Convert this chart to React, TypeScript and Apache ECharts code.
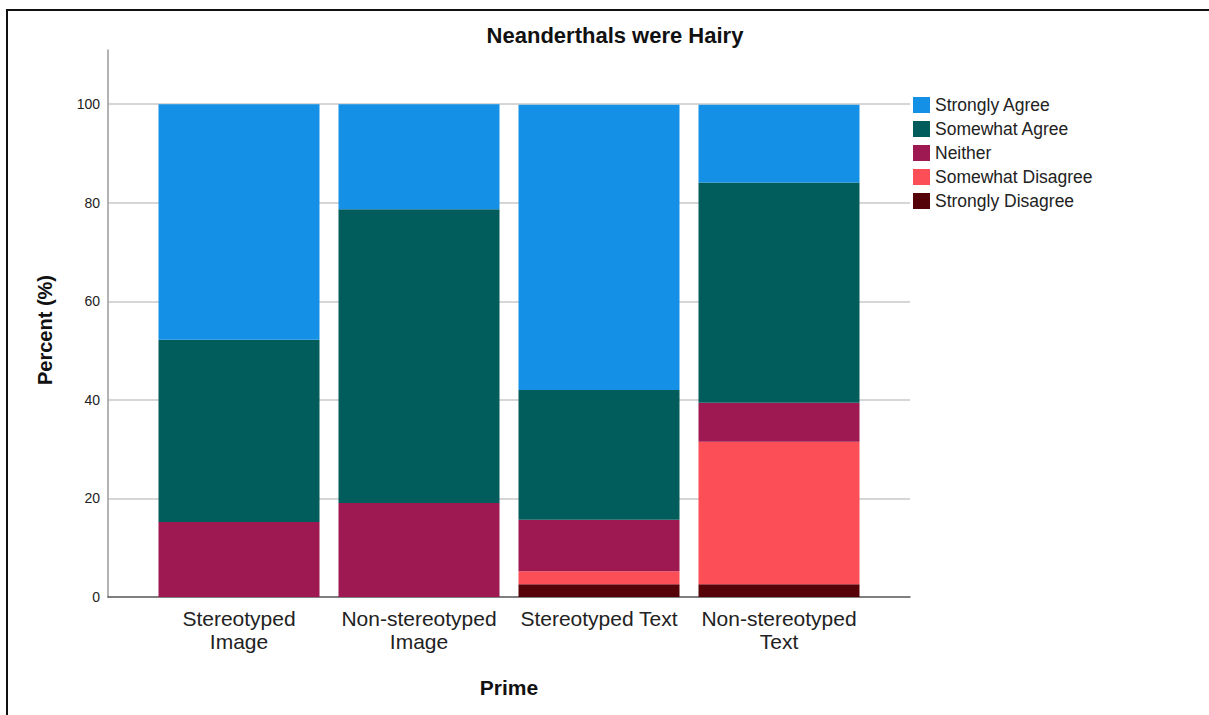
import React, { useEffect, useRef } from "react";
import * as echarts from "echarts";

const categories = ["Stereotyped\nImage", "Non-stereotyped\nImage", "Stereotyped Text", "Non-stereotyped\nText"];
const stronglyDisagree = [0, 0, 2.6, 2.6];
const somewhatDisagree = [0, 0, 2.6, 28.9];
const neither = [15.2, 19.1, 10.5, 7.9];
const somewhatAgree = [37.0, 59.6, 26.3, 44.7];
const stronglyAgree = [47.8, 21.3, 57.9, 15.8];
const yTicks = [0, 20, 40, 60, 80, 100];

const seriesDefs = [
  { name: "Strongly Disagree", data: stronglyDisagree, color: "#550309" },
  { name: "Somewhat Disagree", data: somewhatDisagree, color: "#fc4e56" },
  { name: "Neither", data: neither, color: "#9e1952" },
  { name: "Somewhat Agree", data: somewhatAgree, color: "#015d5b" },
  { name: "Strongly Agree", data: stronglyAgree, color: "#1491e6" },
];
const legendOrder = ["Strongly Agree", "Somewhat Agree", "Neither", "Somewhat Disagree", "Strongly Disagree"];

const FONT = "'Liberation Sans', Arial, sans-serif";

export default function App() {
  const ref = useRef<HTMLDivElement>(null);
  useEffect(() => {
    if (!ref.current) return;
    const chart = echarts.init(ref.current, undefined, { renderer: "svg" });
    chart.setOption({
      animation: false,
      backgroundColor: "#fff",
      textStyle: { fontFamily: FONT },
      title: {
        text: "Neanderthals were Hairy",
        left: 610,
        textAlign: "center",
        top: 19,
        textStyle: { fontFamily: FONT, fontSize: 22, fontWeight: "bold", color: "#111" },
      },
      graphic: [
        {
          type: "rect",
          shape: { x: 7, y: 10, width: 1400, height: 900 },
          style: { fill: "none", stroke: "#111", lineWidth: 2 },
          silent: true,
          z: 100,
        },
        {
          type: "text",
          x: 45,
          y: 330,
          rotation: Math.PI / 2,
          style: {
            text: "Percent (%)",
            fontFamily: FONT,
            fontSize: 20,
            fontWeight: "bold",
            fill: "#111",
            align: "center",
            verticalAlign: "middle",
          },
          silent: true,
        },
      ],
      legend: {
        orient: "vertical",
        left: 913,
        top: 96,
        padding: 0,
        icon: "rect",
        itemWidth: 17,
        itemHeight: 16,
        itemGap: 6,
        data: legendOrder,
        textStyle: { fontFamily: FONT, fontSize: 17.5, color: "#222" },
      },
      grid: [
        { left: 149, right: 340, top: 50, bottom: 118 },
        { left: 108, right: 299, top: 50, bottom: 118 },
      ],
      xAxis: [
        {
          type: "category",
          gridIndex: 0,
          data: categories,
          axisLine: { show: false },
          axisTick: { show: false },
          axisLabel: {
            fontFamily: FONT,
            fontSize: 21,
            lineHeight: 23,
            color: "#222",
            margin: 10,
            interval: 0,
          },
        },
        {
          type: "value",
          gridIndex: 1,
          min: 0,
          max: 1,
          axisLine: { show: true, lineStyle: { color: "#555", width: 1.5 } },
          axisTick: { show: false },
          axisLabel: { show: false },
          splitLine: { show: false },
          name: "Prime",
          nameLocation: "middle",
          nameGap: 80,
          nameTextStyle: { fontFamily: FONT, fontSize: 21, fontWeight: "bold", color: "#111" },
        },
      ],
      yAxis: [
        {
          type: "value",
          gridIndex: 0,
          min: 0,
          max: 111,
          show: false,
          splitLine: { show: false },
        },
        {
          type: "value",
          gridIndex: 1,
          min: 0,
          max: 111,
          interval: 20,
          axisLine: { show: true, lineStyle: { color: "#9a9a9a", width: 1.5 } },
          axisTick: { show: false },
          axisLabel: {
            fontFamily: FONT,
            fontSize: 14,
            color: "#222",
            margin: 8,
            showMaxLabel: false,
            formatter: (v: number) => (yTicks.includes(v) ? String(v) : ""),
          },
          splitLine: {
            show: true,
            showMaxLine: false,
            showMinLine: false,
            lineStyle: { color: "#c8c8c8", width: 1.5 },
          },
        },
      ],
      series: seriesDefs.map((s) => ({
        name: s.name,
        type: "bar",
        stack: "total",
        xAxisIndex: 0,
        yAxisIndex: 0,
        barWidth: 161,
        data: s.data,
        itemStyle: { color: s.color, borderWidth: 0 },
        z: 3,
      })),
    });
    return () => chart.dispose();
  }, []);
  return (
    <div
      ref={ref}
      style={{ position: "fixed", left: 0, top: 0, width: 1209, height: 715, background: "#fff" }}
    />
  );
}
